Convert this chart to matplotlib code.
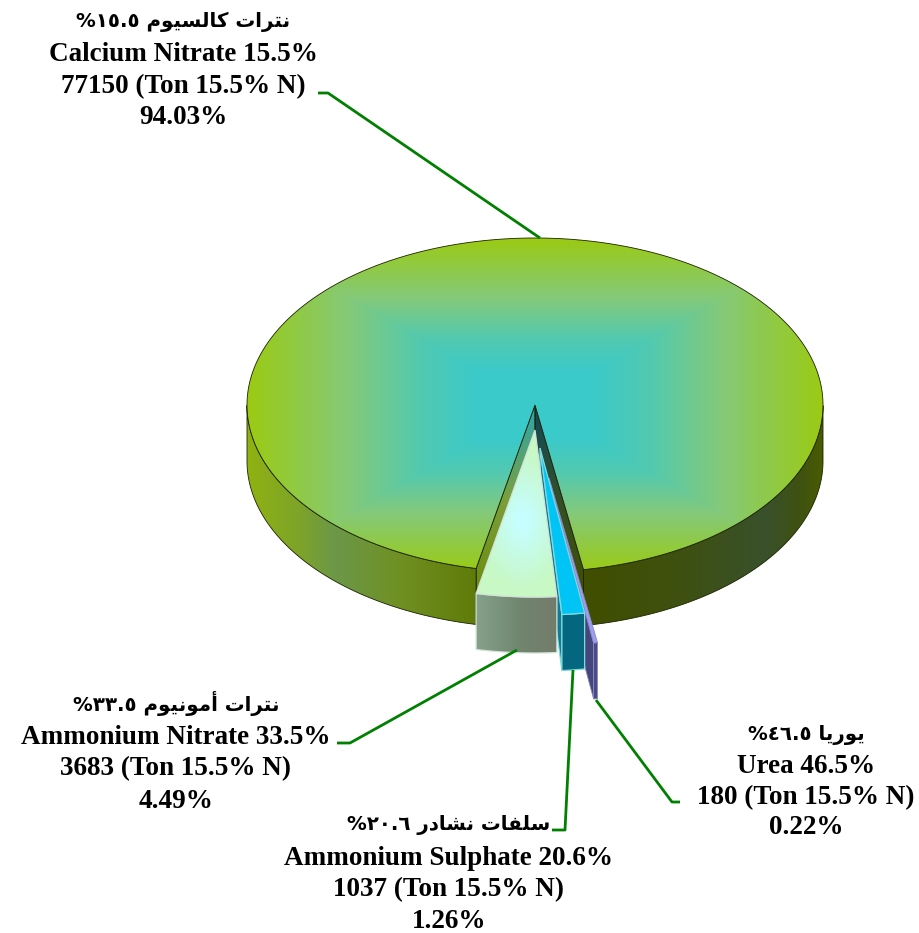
"""Exploded 3-D style pie of nitrogen fertilisers, drawn by hand on a pixel-sized axes."""

import matplotlib

matplotlib.use("Agg")
import matplotlib.pyplot as plt
import numpy as np
from matplotlib.colors import to_rgb
from matplotlib.patches import Polygon

# --- Data ---------------------------------------------------------------------
names_ar = ["نترات كالسيوم ١٥.٥%", "نترات أمونيوم ٣٣.٥%", "سلفات نشادر ٢٠.٦%", "يوريا ٤٦.٥%"]
names_en = ["Calcium Nitrate 15.5%", "Ammonium Nitrate 33.5%", "Ammonium Sulphate 20.6%", "Urea 46.5%"]
tons = [77150, 3683, 1037, 180]
percent_labels = ["94.03%", "4.49%", "1.26%", "0.22%"]

# --- Layout (pixels) ----------------------------------------------------------
CX, CY, RX, RY, DEPTH = 535, 405, 288, 167, 56
START_DEG = 9.7  # measured from straight down, running counter-clockwise on screen
OFFSETS = [(0, 0), (0, 25), (5, 43), (14, 73)]
LABEL_X = [183, 176, 449, 806]
LABEL_Y = [(27, 61, 93, 124), (711, 744, 775, 808), (830, 865, 896, 928), (740, 773, 804, 834)]
LEADERS = [
    [(318, 93), (328, 93), (540, 238)],
    [(337, 743), (350, 743), (517, 650)],
    [(552, 830), (565, 830), (573, 670)],
    [(596, 700), (672, 802), (680, 802)],
]

# Arabic: matplotlib does no shaping, so map letters to presentation forms by hand.
# letter -> (isolated form, joins to the next letter)
AR_FORMS = {
    "ن": (0xFEE5, True), "ت": (0xFE95, True), "ر": (0xFEAD, False), "ا": (0xFE8D, False),
    "أ": (0xFE83, False), "ك": (0xFED9, True), "ل": (0xFEDD, True), "س": (0xFEB1, True),
    "ي": (0xFEF1, True), "و": (0xFEED, False), "م": (0xFEE1, True), "ش": (0xFEB5, True),
    "د": (0xFEA9, False), "ف": (0xFED1, True),
}


def shape_word(word: str) -> str:
    out = []
    for i, ch in enumerate(word):
        base, joins_next = AR_FORMS[ch]
        prev_joins = i > 0 and AR_FORMS[word[i - 1]][1]
        next_exists = i < len(word) - 1
        if joins_next and next_exists:
            out.append(chr(base + (3 if prev_joins else 2)))
        else:
            out.append(chr(base + (1 if prev_joins else 0)))
    return "".join(reversed(out))


def visual_arabic(text: str) -> str:
    """Logical Arabic line -> left-to-right glyph order for matplotlib."""
    tokens = []
    for tok in reversed(text.split(" ")):
        if tok.endswith("%"):
            tokens.append("%" + tok[:-1])
        else:
            tokens.append(shape_word(tok))
    return " ".join(tokens)


def ramp(stops, x):
    """Piecewise colour ramp; stops = [(pos, colour), ...]."""
    pos = [s[0] for s in stops]
    rgb = np.array([to_rgb(s[1]) for s in stops])
    return np.stack([np.interp(x, pos, rgb[:, i]) for i in range(3)], axis=-1)


def fill_gradient(ax, verts, colour_fn, z, edge=None, lw=0.7):
    """Fill a polygon with colour_fn(xx, yy), clipped to its outline."""
    verts = np.asarray(verts)
    x0, y0 = np.floor(verts.min(axis=0))
    x1, y1 = np.ceil(verts.max(axis=0))
    xs = np.arange(x0, x1 + 1)
    ys = np.arange(y0, y1 + 1)
    xx, yy = np.meshgrid(xs, ys)
    im = ax.imshow(colour_fn(xx, yy), extent=(x0, x1 + 1, y1 + 1, y0), aspect="auto",
                   origin="upper", zorder=z, interpolation="bilinear")
    patch = Polygon(verts, closed=True, transform=ax.transData, facecolor="none",
                    edgecolor=edge if edge else "none", lw=lw, zorder=z + 0.1)
    ax.add_patch(patch)
    im.set_clip_path(patch)


def solid(colour):
    return lambda xx, yy: np.broadcast_to(to_rgb(colour), xx.shape + (3,)).copy()


def rim(th, ox, oy, drop=0):
    return np.column_stack([CX + ox + RX * np.sin(th), CY + oy + drop + RY * np.cos(th)])


def draw_slice(ax, a0, a1, offset, top_fn, side_fn, wall0_fn, wall1_fn, z, edge, lw=0.7):
    ox, oy = offset
    th = np.linspace(a0, a1, max(8, int(np.degrees(a1 - a0) * 2)))
    tip = (CX + ox, CY + oy)
    tip_low = (CX + ox, CY + oy + DEPTH)

    # cut faces only show when their outward normal points at the viewer
    if np.sin(a0) > 0:
        fill_gradient(ax, [tip, rim(a0, ox, oy)[0], rim(a0, ox, oy, DEPTH)[0], tip_low],
                      wall0_fn, z, edge, lw)
    if np.sin(a1) < 0:
        fill_gradient(ax, [tip, rim(a1, ox, oy)[0], rim(a1, ox, oy, DEPTH)[0], tip_low],
                      wall1_fn, z, edge, lw)

    # outer skin, front half only
    front = np.cos(th) >= 0
    for run in np.split(th[front], np.where(np.diff(np.where(front)[0]) > 1)[0] + 1):
        if len(run) > 1:
            skin = np.vstack([rim(run, ox, oy), rim(run[::-1], ox, oy, DEPTH)])
            fill_gradient(ax, skin, side_fn, z + 1, edge, lw)

    top = np.vstack([[tip], rim(th, ox, oy)])
    fill_gradient(ax, top, top_fn, z + 2, edge, lw)


# --- Colour functions ---------------------------------------------------------
def main_top(xx, yy):
    t = np.maximum(np.abs(xx - CX) / RX, np.abs(yy - CY) / RY)
    return ramp([(0.2, "#3bcaca"), (0.4, "#52c9b0"), (0.65, "#85c978"), (1.0, "#9bcb12")], t)


def main_side(xx, yy):
    return ramp([(248, "#8fb212"), (300, "#7da32a"), (335, "#6c9748"), (400, "#6f9022"),
                 (478, "#5f7a08"), (585, "#414e00"), (680, "#3e5110"), (765, "#39502c"),
                 (800, "#3f5210"), (823, "#4a5c00")], xx)


def main_wall_left(xx, yy):
    return ramp([(410, "#2fa6ac"), (500, "#7a9f3a"), (600, "#6a8a08")], yy)


def main_wall_right(xx, yy):
    return ramp([(410, "#124a58"), (500, "#344f28"), (600, "#424f00")], yy)


def nitrate_top(xx, yy):
    d = np.hypot((xx - 522) / 45, (yy - 520) / 70)
    return ramp([(0.1, "#c6feff"), (1.0, "#c8f8c4")], d)


def nitrate_side(xx, yy):
    return ramp([(478, "#84a088"), (520, "#70856f"), (558, "#737c6a")], xx)


# --- Figure -------------------------------------------------------------------
plt.rcParams["font.family"] = ["Liberation Serif", "DejaVu Sans"]
fig = plt.figure(figsize=(9.2, 9.33), dpi=100)
ax = fig.add_axes([0, 0, 1, 1])
ax.set_axis_off()

shares = np.array(tons) / sum(tons)
edges = np.radians(START_DEG + np.concatenate([[0], np.cumsum(shares) * 360]))

# painter's order: furthest right exploded slice goes first
draw_slice(ax, edges[0], edges[1], OFFSETS[0], main_top, main_side,
           main_wall_right, main_wall_left, 2, "#1a2200", 0.6)
draw_slice(ax, edges[3], edges[4], OFFSETS[3], solid("#9c9ef2"), solid("#4a4a86"),
           solid("#46467e"), solid("#46467e"), 6, "#8888c0", 0.6)
draw_slice(ax, edges[2], edges[3], OFFSETS[2], solid("#00c4f6"), solid("#05667f"),
           solid("#117a96"), solid("#117a96"), 10, "#7fdcdc", 0.9)
draw_slice(ax, edges[1], edges[2], OFFSETS[1], nitrate_top, nitrate_side,
           solid("#708070"), solid("#708070"), 14, "#d4e2da", 0.9)

for pts in LEADERS:
    xs, ys = zip(*pts)
    ax.plot(xs, ys, color="#008000", lw=2, zorder=20, solid_capstyle="butt")

for i in range(len(tons)):
    lines = [names_en[i], f"{tons[i]} (Ton 15.5% N)", percent_labels[i]]
    ys = LABEL_Y[i]
    ax.text(LABEL_X[i], ys[0], visual_arabic(names_ar[i]), family="DejaVu Sans", weight="bold",
            fontsize=14.2, ha="center", va="baseline", color="black", zorder=21)
    for line, y in zip(lines, ys[1:]):
        ax.text(LABEL_X[i], y, line, family="Liberation Serif", weight="bold", fontsize=19.5,
                ha="center", va="baseline", color="black", zorder=21)

ax.set_xlim(0, 920)
ax.set_ylim(933, 0)
fig.savefig("out.png", dpi=100)
plt.close(fig)
